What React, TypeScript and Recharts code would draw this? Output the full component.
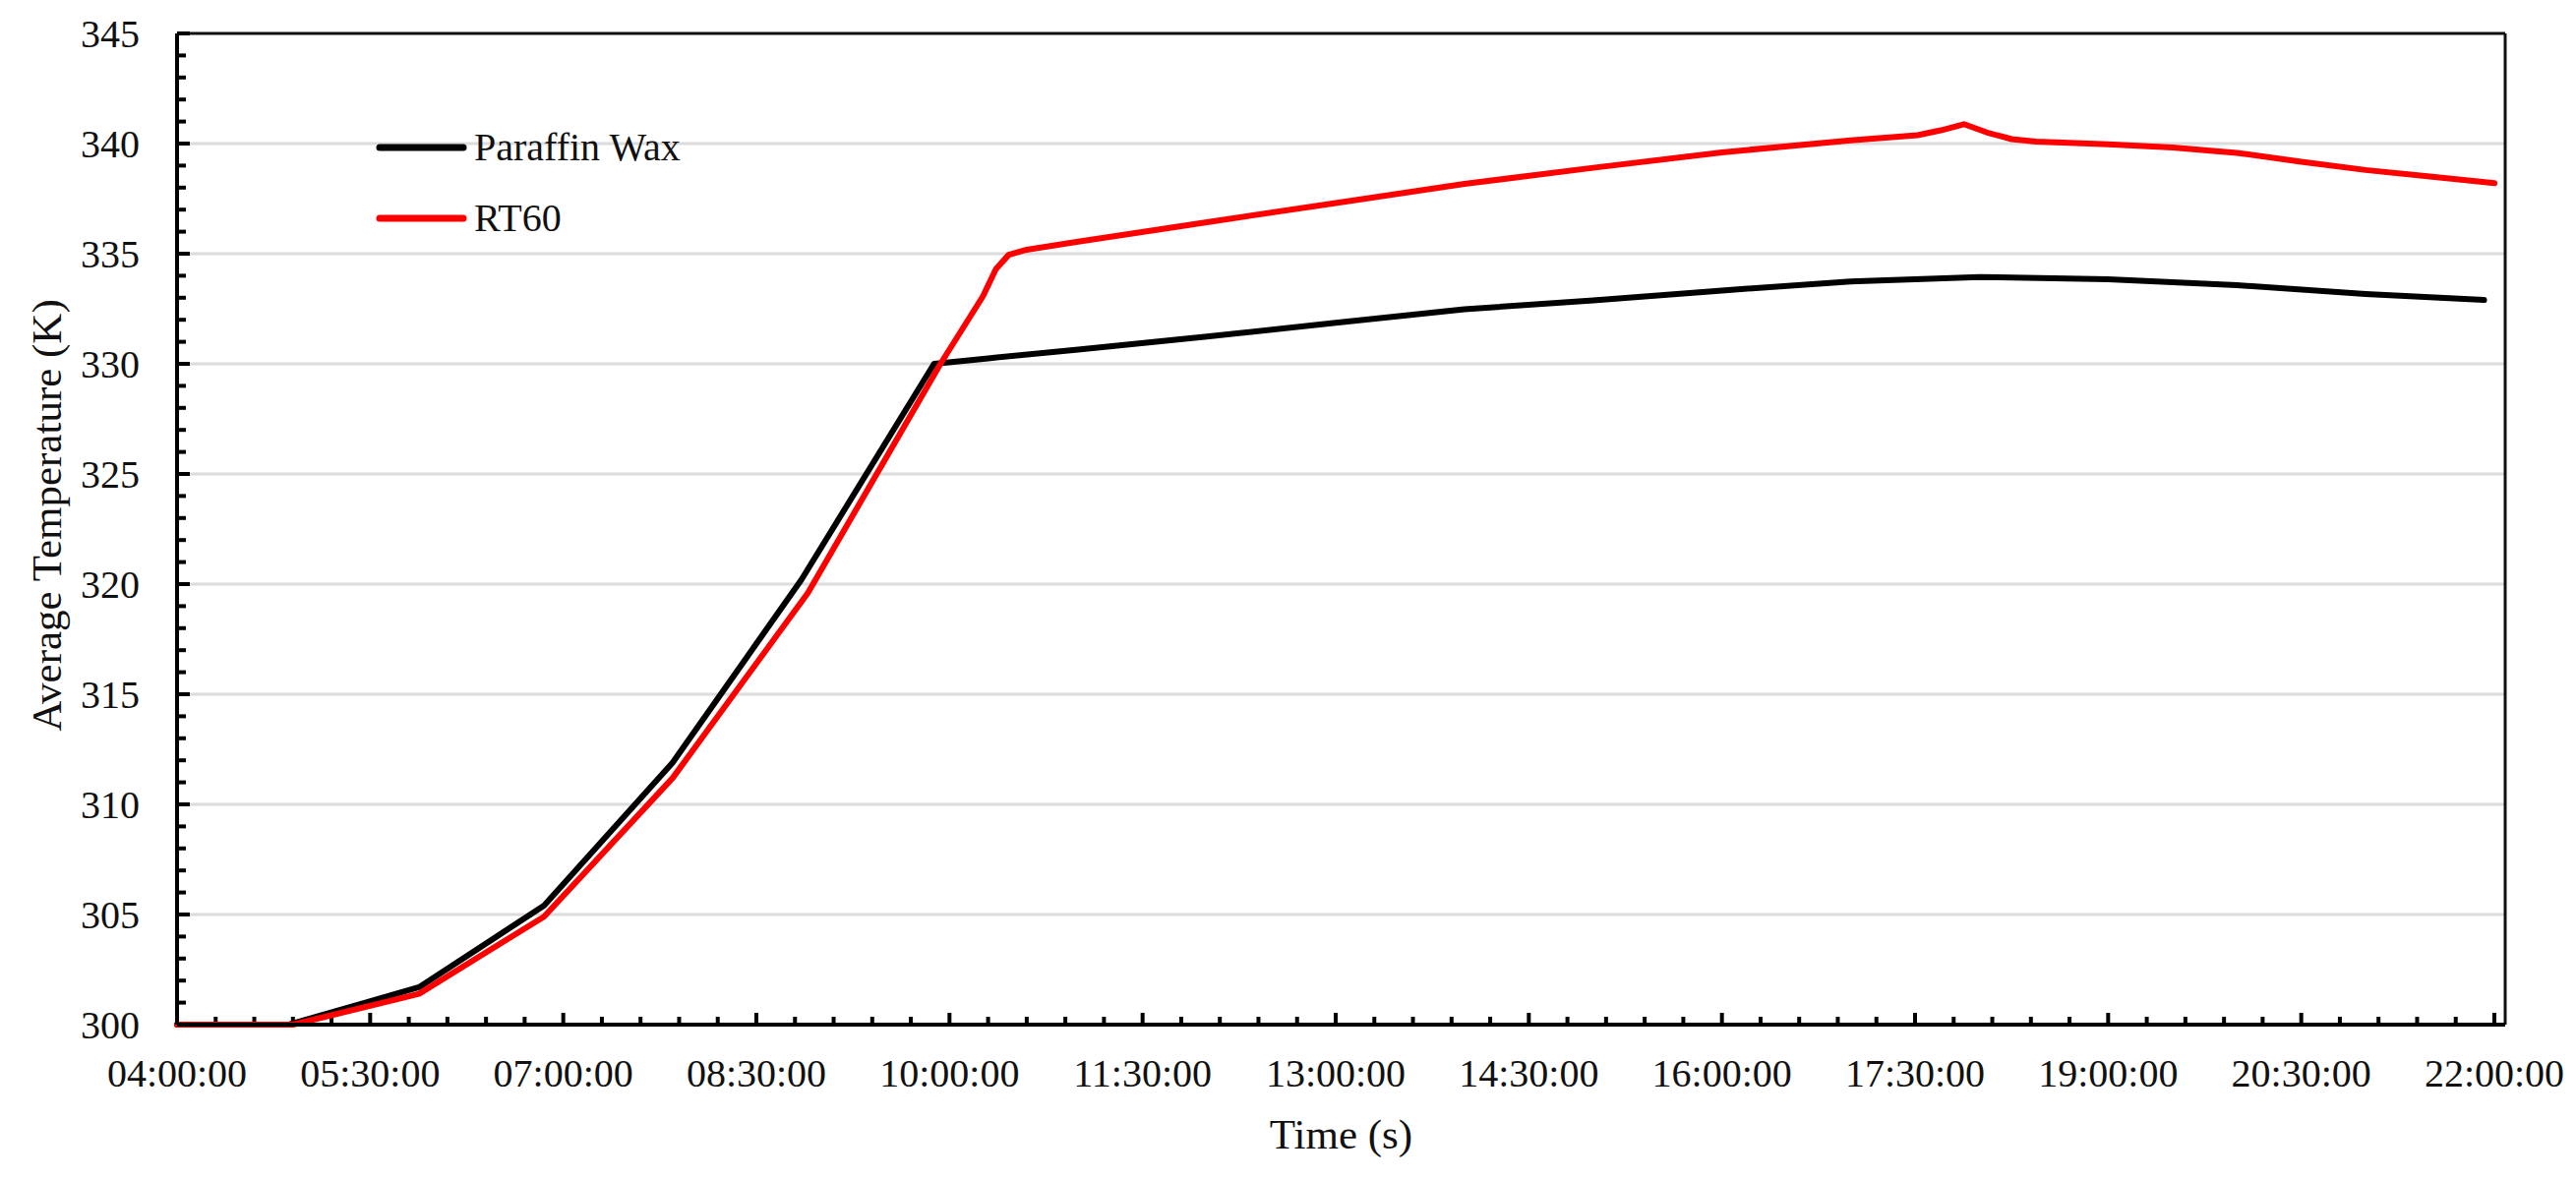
import React from 'react';
import { LineChart, Line, XAxis, YAxis, ReferenceLine, Legend, Label } from 'recharts';

const FONT = '"Liberation Serif", "Times New Roman", serif';

// time in hours since midnight
const paraffinTimes = [4.0, 4.87, 5.88, 6.85, 7.85, 8.85, 9.88, 10.3, 11, 12, 13, 14, 15, 16, 17, 18, 19, 20, 21, 21.92];
const paraffinTemps = [300, 300, 301.7, 305.4, 311.9, 320.2, 330.0, 330.25, 330.65, 331.24, 331.86, 332.48, 332.88, 333.33, 333.74, 333.94, 333.84, 333.57, 333.17, 332.9];

const rt60Times = [4.0, 4.9, 5.88, 6.85, 7.85, 8.9, 9.93, 10.26, 10.36, 10.46, 10.6, 11, 12, 13, 14, 15, 16, 17, 17.52, 17.7, 17.88, 18.06, 18.25, 18.44, 19, 19.5, 20, 20.5, 21, 21.5, 22];
const rt60Temps = [300, 300, 301.4, 304.9, 311.2, 319.6, 330.0, 333.07, 334.3, 334.95, 335.18, 335.55, 336.43, 337.3, 338.17, 338.9, 339.6, 340.15, 340.38, 340.6, 340.88, 340.5, 340.2, 340.09, 339.97, 339.82, 339.58, 339.17, 338.8, 338.5, 338.2];

const timeTicks = [4, 5.5, 7, 8.5, 10, 11.5, 13, 14.5, 16, 17.5, 19, 20.5, 22];
const timeLabels = ['04:00:00', '05:30:00', '07:00:00', '08:30:00', '10:00:00', '11:30:00', '13:00:00', '14:30:00', '16:00:00', '17:30:00', '19:00:00', '20:30:00', '22:00:00'];
const tempTicks = [300, 305, 310, 315, 320, 325, 330, 335, 340, 345];
const gridTemps = [305, 310, 315, 320, 325, 330, 335, 340];

const X_MIN = 4;
const X_MAX = 22.084;
const Y_MIN = 300;
const Y_MAX = 345;
const PLOT_W = 2367;
const PLOT_H = 1008;

// inward tick marks (4 minor between labelled ticks), lengths in px converted to data units
const xMarks = Array.from({ length: (timeTicks.length - 1) * 5 + 1 }, (_, i) => ({
    t: X_MIN + i * 0.3,
    len: ((i % 5 === 0 ? 12 : 8) * (Y_MAX - Y_MIN)) / PLOT_H,
}));
const yMarks = Array.from({ length: (tempTicks.length - 1) * 5 + 1 }, (_, i) => ({
    v: Y_MIN + i,
    len: ((i % 5 === 0 ? 13 : 9) * (X_MAX - X_MIN)) / PLOT_W,
}));

const paraffinData = paraffinTimes.map((t, i) => ({ t, v: paraffinTemps[i] }));
const rt60Data = rt60Times.map((t, i) => ({ t, v: rt60Temps[i] }));

const series = [
    { name: 'Paraffin Wax', color: '#000000' },
    { name: 'RT60', color: '#ff0000' },
];

const XTick = (props: any) => {
    const { x, y, index } = props;
    return (
        <text x={x} y={y + 35} dy="0.71em" textAnchor="middle" fill="#111"
            style={{ fontFamily: FONT, fontSize: 40 }}>
            {timeLabels[index]}
        </text>
    );
};

const YTick = (props: any) => {
    const { x, y, payload } = props;
    return (
        <text x={x - 38} y={y} dy="0.35em" textAnchor="end" fill="#111"
            style={{ fontFamily: FONT, fontSize: 40 }}>
            {payload.value}
        </text>
    );
};

const LegendBox = () => (
    <div style={{ fontFamily: FONT, fontSize: 40, color: '#111' }}>
        {series.map((s) => (
            <div key={s.name} style={{ display: 'flex', alignItems: 'center', height: 72, lineHeight: 1 }}>
                <svg width={93} height={10}>
                    <line x1={4} x2={89} y1={5} y2={5} stroke={s.color} strokeWidth={7} strokeLinecap="round" />
                </svg>
                <span style={{ marginLeft: 7, whiteSpace: 'nowrap' }}>{s.name}</span>
            </div>
        ))}
    </div>
);

export default function App() {
    return (
        <div style={{ width: 2600, height: 1180, background: '#fff' }}>
            <LineChart width={2600} height={1180} margin={{ top: 26, right: 61, left: 0, bottom: 0 }}>
                {gridTemps.map((g) => (
                    <ReferenceLine key={`g${g}`} y={g} stroke="#dcdcdc" strokeWidth={3} />
                ))}
                <ReferenceLine y={Y_MAX} stroke="#111" strokeWidth={3} />
                <ReferenceLine x={X_MAX} stroke="#111" strokeWidth={3} />
                {xMarks.map((m) => (
                    <ReferenceLine key={`x${m.t}`} ifOverflow="visible" stroke="#000" strokeWidth={4}
                        segment={[{ x: m.t, y: Y_MIN }, { x: m.t, y: Y_MIN + m.len }]} />
                ))}
                {yMarks.map((m) => (
                    <ReferenceLine key={`y${m.v}`} ifOverflow="visible" stroke="#000" strokeWidth={4}
                        segment={[{ x: X_MIN, y: m.v }, { x: X_MIN + m.len, y: m.v }]} />
                ))}
                <XAxis
                    dataKey="t"
                    type="number"
                    domain={[X_MIN, X_MAX]}
                    ticks={timeTicks}
                    interval={0}
                    height={146}
                    tickSize={0}
                    tickMargin={0}
                    tickLine={false}
                    tick={<XTick />}
                    axisLine={{ stroke: '#000', strokeWidth: 4 }}
                >
                    <Label
                        content={({ viewBox }: any) => (
                            <text x={viewBox.x + viewBox.width / 2} y={viewBox.y + 126} textAnchor="middle" fill="#111"
                                style={{ fontFamily: FONT, fontSize: 43 }}>
                                Time (s)
                            </text>
                        )}
                    />
                </XAxis>
                <YAxis
                    type="number"
                    domain={[Y_MIN, Y_MAX]}
                    ticks={tempTicks}
                    interval={0}
                    width={172}
                    tickSize={0}
                    tickMargin={0}
                    tickLine={false}
                    tick={<YTick />}
                    axisLine={{ stroke: '#000', strokeWidth: 4 }}
                >
                    <Label
                        content={({ viewBox }: any) => (
                            <text x={54} y={viewBox.y + 490} textAnchor="middle" fill="#111"
                                transform={`rotate(-90, 54, ${viewBox.y + 490})`}
                                style={{ fontFamily: FONT, fontSize: 43 }}>
                                Average Temperature (K)
                            </text>
                        )}
                    />
                </YAxis>
                <Legend
                    layout="vertical"
                    align="center"
                    verticalAlign="middle"
                    wrapperStyle={{ left: 374, top: 106, width: 'auto' }}
                    content={() => <LegendBox />}
                />
                <Line
                    data={paraffinData}
                    dataKey="v"
                    name="Paraffin Wax"
                    type="linear"
                    stroke="#000000"
                    strokeWidth={6}
                    dot={false}
                    strokeLinejoin="round"
                    strokeLinecap="round"
                    isAnimationActive={false}
                />
                <Line
                    data={rt60Data}
                    dataKey="v"
                    name="RT60"
                    type="linear"
                    stroke="#ff0000"
                    strokeWidth={6}
                    dot={false}
                    strokeLinejoin="round"
                    strokeLinecap="round"
                    isAnimationActive={false}
                />
            </LineChart>
        </div>
    );
}
